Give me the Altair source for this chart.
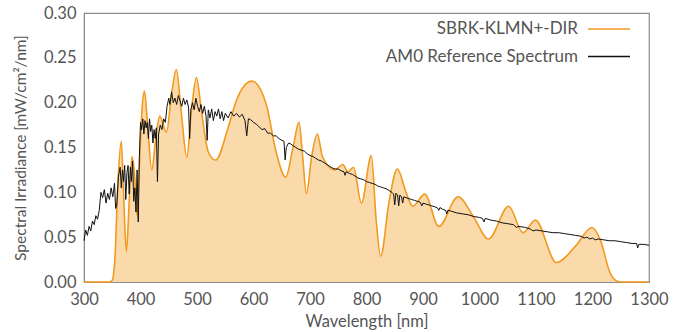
import altair as alt
import pandas as pd

# Orange model curve (SBRK-KLMN+-DIR): wavelength [nm], irradiance
sbrk_wl = [300, 345, 350, 355, 360, 366, 370, 375, 380, 385, 390, 394, 398, 403, 407,
           412, 420, 427, 434, 446, 455, 463.5, 472, 482, 490, 499, 508, 520, 533, 555,
           570, 597, 623, 640, 657, 670, 680.5, 687, 693.6, 703, 713, 722, 743.7, 758,
           767, 777, 791, 808.6, 817, 825, 840, 854.7, 870, 882, 903, 928, 962, 990,
           1016, 1051.6, 1077, 1099, 1136, 1170, 1199, 1215, 1230, 1245, 1250, 1300]
sbrk_val = [0, 0, 0.002, 0.03, 0.11, 0.157, 0.10, 0.034, 0.09, 0.140, 0.115, 0.074, 0.13, 0.195, 0.213,
            0.18, 0.125, 0.16, 0.185, 0.167, 0.21, 0.237, 0.19, 0.139, 0.19, 0.228, 0.19, 0.145, 0.136, 0.172,
            0.203, 0.224, 0.197, 0.145, 0.117, 0.15, 0.178, 0.14, 0.0987, 0.14, 0.165, 0.14, 0.125, 0.131,
            0.123, 0.128, 0.088, 0.141, 0.07, 0.0287, 0.09, 0.126, 0.10, 0.0845, 0.098, 0.062, 0.095, 0.072,
            0.048, 0.0845, 0.055, 0.069, 0.0217, 0.04, 0.0607, 0.045, 0.012, 0.0005, 0, 0]

# Black AM0 reference spectrum
am0_wl = [300, 303, 306, 309, 312, 315, 318, 321, 324, 327, 330, 333, 336, 339, 342, 345, 348, 351, 354,
          356, 358, 361, 364, 366, 368, 370, 372, 374, 376, 378, 380, 382, 384, 386, 388, 390, 392, 394,
          396, 398, 400, 402, 404, 406, 408, 410, 412, 414, 416, 418, 420, 422, 424, 426, 428, 430, 432,
          435, 438, 441, 444, 447, 450, 452, 455, 458, 461, 464, 467, 470, 473, 476, 479, 482, 485, 487,
          489, 492, 495, 498, 501, 504, 507, 510, 513, 516, 518, 520, 523, 526, 529, 532, 535, 538, 541,
          544, 547, 550, 555, 560, 565, 570, 575, 580, 585, 588, 591, 595, 600, 605, 610, 615, 620, 625,
          630, 635, 640, 645, 650, 654, 656, 658, 662, 666, 670, 675, 680, 685, 690, 695, 700, 705, 710,
          715, 720, 725, 730, 735, 740, 745, 750, 755, 760, 762, 764, 770, 775, 780, 785, 790, 795, 800,
          805, 810, 815, 820, 825, 830, 835, 840, 845, 848, 850, 852, 855, 857, 859, 862, 864, 866, 870,
          875, 880, 885, 890, 895, 898, 900, 905, 910, 915, 920, 925, 928, 930, 935, 940, 942, 944, 950,
          960, 970, 980, 990, 1000, 1005, 1008, 1010, 1020, 1030, 1040, 1050, 1060, 1065, 1070, 1080,
          1090, 1095, 1100, 1110, 1120, 1130, 1140, 1150, 1160, 1170, 1180, 1185, 1190, 1195, 1200, 1205,
          1210, 1220, 1230, 1240, 1250, 1260, 1270, 1278, 1280, 1282, 1290, 1300]
am0_val = [0.046, 0.058, 0.052, 0.062, 0.057, 0.068, 0.064, 0.074, 0.070, 0.080, 0.100, 0.094, 0.103,
           0.088, 0.099, 0.092, 0.105, 0.095, 0.110, 0.082, 0.086, 0.118, 0.128, 0.105, 0.125, 0.112,
           0.130, 0.092, 0.122, 0.130, 0.098, 0.128, 0.112, 0.135, 0.090, 0.105, 0.078, 0.125, 0.067,
           0.140, 0.178, 0.170, 0.182, 0.165, 0.180, 0.172, 0.178, 0.160, 0.182, 0.168, 0.175, 0.155,
           0.170, 0.160, 0.172, 0.112, 0.165, 0.175, 0.170, 0.182, 0.178, 0.196, 0.205, 0.198, 0.212,
           0.200, 0.205, 0.198, 0.208, 0.202, 0.196, 0.205, 0.198, 0.203, 0.195, 0.160, 0.192, 0.200,
           0.192, 0.205, 0.196, 0.190, 0.198, 0.188, 0.196, 0.185, 0.158, 0.192, 0.183, 0.193, 0.180,
           0.190, 0.185, 0.193, 0.182, 0.190, 0.180, 0.188, 0.183, 0.190, 0.185, 0.188, 0.184, 0.187,
           0.180, 0.163, 0.182, 0.181, 0.178, 0.176, 0.173, 0.170, 0.171, 0.166, 0.166, 0.163, 0.163,
           0.160, 0.158, 0.157, 0.136, 0.150, 0.155, 0.154, 0.152, 0.150, 0.148, 0.147, 0.146, 0.143,
           0.141, 0.140, 0.138, 0.136, 0.135, 0.133, 0.131, 0.129, 0.127, 0.126, 0.126, 0.124, 0.123,
           0.119, 0.123, 0.121, 0.120, 0.118, 0.116, 0.115, 0.114, 0.112, 0.111, 0.110, 0.109, 0.107,
           0.106, 0.105, 0.104, 0.102, 0.100, 0.098, 0.086, 0.099, 0.097, 0.085, 0.097, 0.095, 0.088,
           0.095, 0.094, 0.093, 0.092, 0.091, 0.090, 0.089, 0.085, 0.088, 0.087, 0.086, 0.085, 0.084,
           0.083, 0.080, 0.083, 0.081, 0.080, 0.076, 0.080, 0.079, 0.077, 0.076, 0.075, 0.073, 0.072,
           0.071, 0.067, 0.071, 0.069, 0.068, 0.066, 0.065, 0.064, 0.061, 0.062, 0.061, 0.059, 0.057,
           0.058, 0.057, 0.056, 0.055, 0.055, 0.054, 0.053, 0.052, 0.051, 0.049, 0.050, 0.048, 0.049,
           0.047, 0.048, 0.047, 0.046, 0.046, 0.045, 0.044, 0.043, 0.043, 0.038, 0.042, 0.042, 0.041]

legend_labels = ["SBRK-KLMN+-DIR", "AM0 Reference Spectrum"]
x_ticks = [300, 400, 500, 600, 700, 800, 900, 1000, 1100, 1200, 1300]
y_ticks = [0.0, 0.05, 0.10, 0.15, 0.20, 0.25, 0.30]

ORANGE = "#F29A1F"
FILL = "#FAD9AA"
BLACK = "#111111"
TEXT = "#555555"
FONT = "Lato"

sbrk = pd.DataFrame({"wl": sbrk_wl, "val": sbrk_val})
am0 = pd.DataFrame({"wl": am0_wl, "val": am0_val})

x_enc = alt.X("wl:Q", scale=alt.Scale(domain=[300, 1300], nice=False),
              axis=alt.Axis(values=x_ticks, title="Wavelength [nm]", format="d",
                            labelPadding=9, titlePadding=6, ticks=False,
                            labelFlush=False, labelOverlap=False))
y_enc = alt.Y("val:Q", scale=alt.Scale(domain=[0, 0.30], nice=False),
              axis=alt.Axis(values=y_ticks, format=".2f",
                            title="Spectral Irradiance [mW/cm²/nm]",
                            labelPadding=8, titlePadding=15, ticks=False,
                            titleFontSize=15.5,
                            labelFlush=False, labelOverlap=False))

area = alt.Chart(sbrk).mark_area(interpolate="monotone", color=FILL, opacity=1).encode(
    x=x_enc, y=y_enc)
orange_line = alt.Chart(sbrk).mark_line(interpolate="monotone", color=ORANGE, strokeWidth=1.6).encode(
    x="wl:Q", y="val:Q")
black_line = alt.Chart(am0).mark_line(color=BLACK, strokeWidth=1).encode(
    x="wl:Q", y="val:Q")

leg = pd.DataFrame({"label": legend_labels, "row": [0, 1]})
leg_rows = [(0, 16, ORANGE), (1, 43.5, BLACK)]
leg_layers = []
for r, ypix, col in leg_rows:
    base = alt.Chart(leg).transform_filter(alt.datum.row == r)
    leg_layers.append(base.mark_text(align="right", baseline="middle", font=FONT, fontSize=17,
                                     color=TEXT).encode(
        x=alt.value(494), y=alt.value(ypix), text="label:N"))
    leg_layers.append(base.mark_rule(strokeWidth=1.4, color=col).encode(
        x=alt.value(504), x2=alt.value(546), y=alt.value(ypix)))

chart = alt.layer(area, orange_line, black_line, *leg_layers).properties(
    width=565, height=269,
    autosize=alt.AutoSizeParams(type="none"),
    padding={"left": 84, "top": 13, "right": 35, "bottom": 50},
).configure_view(
    stroke="#8c8c8c", strokeWidth=1.2
).configure_axis(
    labelFont=FONT, labelFontSize=16.5, labelColor=TEXT,
    titleFont=FONT, titleFontSize=16.5, titleColor=TEXT, titleFontWeight="normal",
    domainColor="#8c8c8c", grid=False
)

chart.save("out.html", embed_options={"renderer": "svg", "actions": False})
